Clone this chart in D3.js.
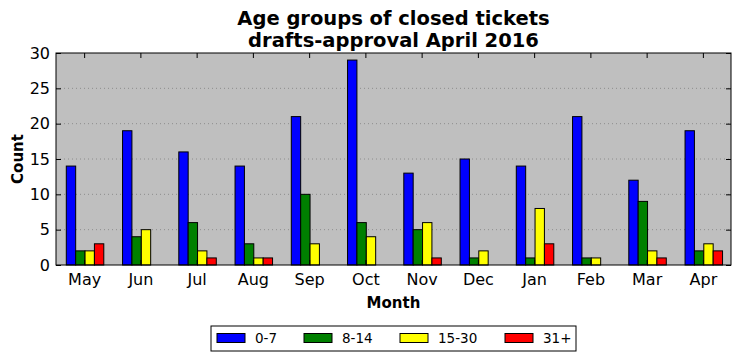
<!DOCTYPE html>
<html>
<head>
<meta charset="utf-8">
<script src="https://cdn.jsdelivr.net/npm/d3@7"></script>
<style>
  body { margin: 0; background: #fff; }
  text { font-family: "DejaVu Sans", sans-serif; }
</style>
</head>
<body>
<script>
var months = ["May", "Jun", "Jul", "Aug", "Sep", "Oct", "Nov", "Dec", "Jan", "Feb", "Mar", "Apr"];
var groups = ["0-7", "8-14", "15-30", "31+"];
var colors = ["#0000ff", "#008000", "#ffff00", "#ff0000"];
var age0to7 = [14, 19, 16, 14, 21, 29, 13, 15, 14, 21, 12, 19];
var age8to14 = [2, 4, 6, 3, 10, 6, 5, 1, 1, 1, 9, 2];
var age15to30 = [2, 5, 2, 1, 3, 4, 6, 2, 8, 1, 2, 3];
var age31plus = [3, 0, 1, 1, 0, 0, 1, 0, 3, 0, 1, 2];
var yTicks = [0, 5, 10, 15, 20, 25, 30];

var series = [age0to7, age8to14, age15to30, age31plus];

const w = 741, h = 361;
const mLeft = 56, mRight = 731, mTop = 53, mBottom = 265;

const svg = d3.select("body").append("svg")
    .attr("width", w)
    .attr("height", h);

// x in month units, 0..12
const x = d3.scaleLinear().domain([0, 12]).range([mLeft, mRight]);
const y = d3.scaleLinear().domain([0, 30]).range([mBottom, mTop]);
const barW = 1 / 6;
const offset = 0.183;

svg.append("rect")
    .attr("x", mLeft).attr("y", mTop)
    .attr("width", mRight - mLeft).attr("height", mBottom - mTop)
    .attr("fill", "#bfbfbf");

// dotted grid
svg.selectAll("line.grid")
    .data(yTicks.slice(1, -1))
    .enter().append("line")
    .attr("class", "grid")
    .attr("x1", mLeft).attr("x2", mRight)
    .attr("y1", d => y(d)).attr("y2", d => y(d))
    .attr("stroke", "#808080")
    .attr("stroke-width", 0.8)
    .attr("stroke-dasharray", "1,3");

// bars
series.forEach((vals, s) => {
    svg.append("g").selectAll("rect")
        .data(vals)
        .enter().append("rect")
        .attr("x", (d, i) => x(i + offset + s * barW))
        .attr("y", d => y(d))
        .attr("width", x(barW) - x(0))
        .attr("height", d => y(0) - y(d))
        .attr("fill", colors[s])
        .attr("stroke", "#000")
        .attr("stroke-width", 1);
});

// frame
svg.append("rect")
    .attr("x", mLeft).attr("y", mTop)
    .attr("width", mRight - mLeft).attr("height", mBottom - mTop)
    .attr("fill", "none")
    .attr("stroke", "#000")
    .attr("stroke-width", 1);

// axes (ticks inward)
const monthTicks = months.map((m, i) => i + 0.5);
const xAxis = d3.axisBottom(x).tickValues(monthTicks)
    .tickFormat((d, i) => months[i]).tickSizeInner(-5).tickSizeOuter(0).tickPadding(9);
const xTop = d3.axisTop(x).tickValues(monthTicks)
    .tickFormat("").tickSizeInner(-5).tickSizeOuter(0);
const yAxis = d3.axisLeft(y).tickValues(yTicks)
    .tickSizeInner(-5).tickSizeOuter(0).tickPadding(10);
const yRight = d3.axisRight(y).tickValues(yTicks)
    .tickFormat("").tickSizeInner(-5).tickSizeOuter(0);

function styleAxis(g) {
    g.select(".domain").remove();
    g.selectAll("line").attr("stroke", "#000");
    g.selectAll("text").attr("font-size", 16).attr("fill", "#000")
        .attr("font-family", "DejaVu Sans, sans-serif");
}

svg.append("g").attr("transform", `translate(0,${mBottom})`).call(xAxis).call(styleAxis);
svg.append("g").attr("transform", `translate(0,${mTop})`).call(xTop).call(styleAxis);
svg.append("g").attr("transform", `translate(${mLeft},0)`).call(yAxis).call(styleAxis)
    .selectAll("text").attr("dx", 4);
svg.append("g").attr("transform", `translate(${mRight},0)`).call(yRight).call(styleAxis);

// titles
svg.append("text")
    .attr("x", (mLeft + mRight) / 2).attr("y", 25)
    .attr("text-anchor", "middle")
    .attr("font-size", 19.5).attr("font-weight", "bold")
    .text("Age groups of closed tickets");
svg.append("text")
    .attr("x", (mLeft + mRight) / 2).attr("y", 47)
    .attr("text-anchor", "middle")
    .attr("font-size", 19.5).attr("font-weight", "bold")
    .text("drafts-approval April 2016");

svg.append("text")
    .attr("x", (mLeft + mRight) / 2).attr("y", 308)
    .attr("text-anchor", "middle")
    .attr("font-size", 15).attr("font-weight", "bold")
    .text("Month");

svg.append("text")
    .attr("transform", `translate(23,${(mTop + mBottom) / 2}) rotate(-90)`)
    .attr("text-anchor", "middle")
    .attr("font-size", 15).attr("font-weight", "bold")
    .text("Count");

// legend
const legend = svg.append("g");
legend.append("rect")
    .attr("x", 211).attr("y", 326).attr("width", 365).attr("height", 25)
    .attr("fill", "#fff").attr("stroke", "#000").attr("stroke-width", 1);
const legX = [217, 304, 400, 505];
groups.forEach((g, i) => {
    legend.append("rect")
        .attr("x", legX[i]).attr("y", 333.5).attr("width", 28).attr("height", 9)
        .attr("fill", colors[i]).attr("stroke", "#000").attr("stroke-width", 1);
    legend.append("text")
        .attr("x", legX[i] + 38).attr("y", 343)
        .attr("font-size", 13.5)
        .text(g);
});
</script>
</body>
</html>
